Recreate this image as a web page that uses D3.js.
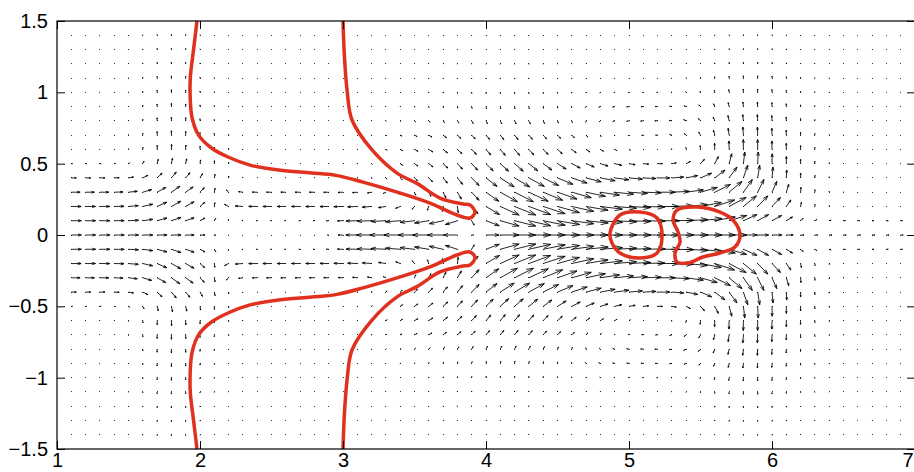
<!DOCTYPE html>
<html>
<head>
<meta charset="utf-8">
<script src="https://cdn.jsdelivr.net/npm/d3@7"></script>
<style>
  body { margin: 0; background: #fff; }
  svg { display: block; }
</style>
</head>
<body>
<svg id="chart" width="914" height="472"></svg>
<script>
// quiver grid and axis ticks
var gridX = d3.range(11, 70).map(d => d / 10);
var gridY = d3.range(-14, 15).map(d => d / 10);
var xTicks = [1, 2, 3, 4, 5, 6, 7];
var yTicks = [-1.5, -1, -0.5, 0, 0.5, 1, 1.5];

// horizontal streams (arrow length in axis units, x extent, |y| band)
var streamSpeed = [0.088, 0.066, 0.035, -0.115, -0.07, 0.07, -0.025, 0.02];
var streamX0 = [3.97, 3.97, 3.4, 3.05, 2.2, -5, 4.7, 6.05];
var streamX0Soft = [0.15, 0.15, 0.2, 0.12, 0.1, 0.3, 0.2, 0.1];
var streamX1 = [5.75, 6.1, 5.0, 3.88, 3.35, 2.0, 5.6, 7.5];
var streamX1Soft = [0.15, 0.08, 0.3, 0.04, 0.15, 0.12, 0.3, 0.6];
var streamInner = [0, 0, 0.3, 0, 0.15, 0, 0.62, 0];
var streamOuter = [0.47, 0.3, 0.75, 0.15, 0.3, 0.4, 0.95, 0.12];
var streamEdge = [0.08, 0.08, 0.12, 0.05, 0.05, 0.1, 0.1, 0.05];

// vertical lobes (positive = away from the axis)
var lobeSpeed = [-0.1, 0.14, 0.05, 0.03];
var lobeX = [4.15, 5.85, 1.8, 2.1];
var lobeWidth = [0.6, 0.35, 0.22, 0.15];
var lobeCore = [0.25, 0.3, 0.2, 0.2];
var lobeHeight = [0.65, 0.75, 1.0, 0.6];

// red level curves
var curveUpper = [[1.979,1.5],[1.955,1.3],[1.932,1.1],[1.932,0.95],[1.945,0.82],[1.99,0.70],[2.08,0.61],
  [2.2,0.545],[2.35,0.49],[2.55,0.455],[2.78,0.435],[2.95,0.418],[3.14,0.371],[3.378,0.301],[3.608,0.224],
  [3.797,0.140],[3.888,0.119],[3.923,0.161],[3.888,0.210],[3.839,0.217],[3.678,0.259],[3.52,0.36],
  [3.378,0.434],[3.2,0.6],[3.063,0.806],[3.03,1.0],[3.01,1.25],[3.0,1.5]];
var curveLower = curveUpper.map(p => [p[0], -p[1]]);
var loopLeft = [[4.867,0.014],[4.937,0.140],[5.077,0.161],[5.196,0.119],[5.231,-0.014],[5.196,-0.126],
  [5.077,-0.161],[4.937,-0.126],[4.881,-0.056]];
var loopRight = [[5.336,0.175],[5.476,0.196],[5.636,0.161],[5.727,0.105],[5.776,0.0],[5.741,-0.084],
  [5.636,-0.126],[5.517,-0.154],[5.413,-0.196],[5.336,-0.189],[5.322,-0.126],[5.357,-0.049],
  [5.343,0.021],[5.308,0.105]];

var svg = d3.select("#chart");
var margin = { top: 21, left: 57 };
var plotW = 858, plotH = 428;

var x = d3.scaleLinear().domain([1, 7]).range([margin.left, margin.left + plotW]);
var y = d3.scaleLinear().domain([-1.5, 1.5]).range([margin.top + plotH, margin.top]);

function band(t, a, b, s) {
  return 0.5 * (Math.tanh((t - a) / s) - Math.tanh((t - b) / s));
}

function field(px, py) {
  var u = 0, v = 0, ay = Math.abs(py);
  for (let i = 0; i < streamSpeed.length; i++) {
    let sx = 0.5 * (Math.tanh((px - streamX0[i]) / streamX0Soft[i]) - Math.tanh((px - streamX1[i]) / streamX1Soft[i]));
    let sy = streamInner[i] > 0 ? band(ay, streamInner[i], streamOuter[i], streamEdge[i])
      : band(py, -streamOuter[i], streamOuter[i], streamEdge[i]);
    u += streamSpeed[i] * sx * sy;
  }
  for (let i = 0; i < lobeSpeed.length; i++) {
    let gx = Math.exp(-Math.pow((px - lobeX[i]) / lobeWidth[i], 2));
    v += lobeSpeed[i] * gx * Math.tanh(py / lobeCore[i]) * Math.exp(-Math.pow(py / lobeHeight[i], 2));
  }
  return [u, v];
}

var arrows = [];
gridY.forEach(gy => gridX.forEach(gx => {
  var f = field(gx, gy);
  arrows.push({ x: gx, y: gy, u: f[0], v: f[1] });
}));

// matlab quiver style heads
var alpha = 0.33, beta = 0.33;
function arrowPath(d) {
  var tx = d.x + d.u, ty = d.y + d.v;
  var h1x = tx - alpha * (d.u + beta * d.v), h1y = ty - alpha * (d.v - beta * d.u);
  var h2x = tx - alpha * (d.u - beta * d.v), h2y = ty - alpha * (d.v + beta * d.u);
  return "M" + x(d.x) + "," + y(d.y) + "L" + x(tx) + "," + y(ty) +
    "M" + x(h1x) + "," + y(h1y) + "L" + x(tx) + "," + y(ty) + "L" + x(h2x) + "," + y(h2y);
}

var plot = svg.append("g").attr("id", "plot");

plot.selectAll("rect.dot")
  .data(arrows)
  .enter().append("rect")
  .attr("class", "dot")
  .attr("x", d => Math.floor(x(d.x)))
  .attr("y", d => Math.floor(y(d.y)))
  .attr("width", 1)
  .attr("height", 1)
  .attr("shape-rendering", "crispEdges")
  .attr("fill", "#333");

plot.selectAll("path.arrow")
  .data(arrows)
  .enter().append("path")
  .attr("class", "arrow")
  .attr("d", arrowPath)
  .attr("fill", "none")
  .attr("stroke", "#000")
  .attr("stroke-width", 0.85);

// red curves
var openLine = d3.line().x(d => x(d[0])).y(d => y(d[1])).curve(d3.curveCatmullRom);
var closedLine = d3.line().x(d => x(d[0])).y(d => y(d[1])).curve(d3.curveCatmullRomClosed);

plot.selectAll("path.level")
  .data([curveUpper, curveLower])
  .enter().append("path")
  .attr("class", "level")
  .attr("d", openLine)
  .attr("fill", "none")
  .attr("stroke", "#e0301e")
  .attr("stroke-width", 3.5);

plot.selectAll("path.loop")
  .data([loopLeft, loopRight])
  .enter().append("path")
  .attr("class", "loop")
  .attr("d", closedLine)
  .attr("fill", "none")
  .attr("stroke", "#e0301e")
  .attr("stroke-width", 3.5);

// frame and axes
var fmt = d => (d < 0 ? "\u2212" : "") + Math.abs(d);

svg.append("g").attr("transform", "translate(" + margin.left + ",0)")
  .call(d3.axisLeft(y).tickValues(yTicks).tickFormat(fmt).tickSizeInner(-8).tickSizeOuter(0).tickPadding(9));
svg.append("g").attr("transform", "translate(" + (margin.left + plotW) + ",0)")
  .call(d3.axisRight(y).tickValues(yTicks).tickFormat("").tickSizeInner(-8).tickSizeOuter(0));
var xAxis = svg.append("g").attr("transform", "translate(0," + (margin.top + plotH) + ")")
  .call(d3.axisBottom(x).tickValues(xTicks).tickFormat(fmt).tickSizeInner(-8).tickSizeOuter(0).tickPadding(4));
svg.append("g").attr("transform", "translate(0," + margin.top + ")")
  .call(d3.axisTop(x).tickValues(xTicks).tickFormat("").tickSizeInner(-8).tickSizeOuter(0));

// last x label sits on the window edge, keep it inside
xAxis.selectAll(".tick text").filter(d => d === 7)
  .attr("text-anchor", "end")
  .attr("x", 913 - x(7));

svg.selectAll(".tick text")
  .style("font-family", "'Liberation Sans', Arial, sans-serif")
  .style("font-size", "20px")
  .attr("fill", "#000");
svg.selectAll(".tick line").attr("stroke", "#000");
svg.selectAll(".domain").remove();

svg.append("rect")
  .attr("x", margin.left)
  .attr("y", margin.top)
  .attr("width", plotW)
  .attr("height", plotH)
  .attr("fill", "none")
  .attr("stroke", "#000")
  .attr("stroke-width", 1.2);
</script>
</body>
</html>
